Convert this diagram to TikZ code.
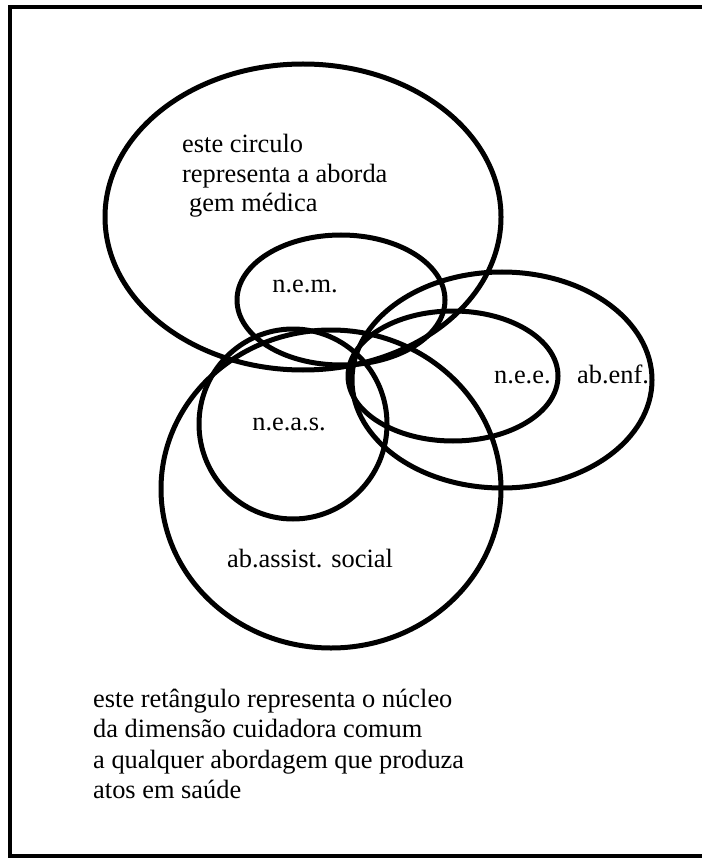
\documentclass[tikz,border=0pt]{standalone}
\usepackage{fontspec}
\setmainfont{Liberation Serif}
\begin{document}
\begin{tikzpicture}[x=1pt,y=-1pt,
  ring/.style={line width=5pt},
  frame/.style={line width=4.5pt},
  lbl/.style={inner sep=0pt,font=\fontsize{26.4}{30}\selectfont},
  lblw/.style={lbl,anchor=base west},
  lblc/.style={lbl,anchor=base}]
\useasboundingbox (0,0) rectangle (701,858);
\draw[frame] (10,7) rectangle (706,856);
% medical
\draw[ring] (303,217) ellipse [x radius=198, y radius=153];
\draw[ring] (341,300) ellipse [x radius=104, y radius=65];
% nursing
\draw[ring] (502,380) ellipse [x radius=150, y radius=108];
\draw[ring] (453,376) ellipse [x radius=105, y radius=65];
% social
\draw[ring] (331,489) ellipse [x radius=170, y radius=159];
\draw[ring] (293,424) ellipse [x radius=94, y radius=95];
% texts
\node[lblw] (m1) at (182,153) {este circulo};
\node[lblw] (m2) at (182,183) {representa a aborda};
\node[lblw] (m3) at (189,212) {gem médica};
\node[lblc] (nem) at (305,292) {n.e.m.};
\node[lblw] (nee) at (494,383) {n.e.e.};
\node[lblw] (enf) at (577,383) {ab.enf.};
\node[lblc] (neas) at (289,430) {n.e.a.s.};
\node[lblw] (soc) at (227,567) {ab.assist. social};
\node[lblw] (r1) at (93,707) {este retângulo representa o núcleo};
\node[lblw] (r2) at (93,737) {da dimensão cuidadora comum};
\node[lblw] (r3) at (93,768) {a qualquer abordagem que produza};
\node[lblw] (r4) at (93,798) {atos em saúde};
\end{tikzpicture}
\end{document}
